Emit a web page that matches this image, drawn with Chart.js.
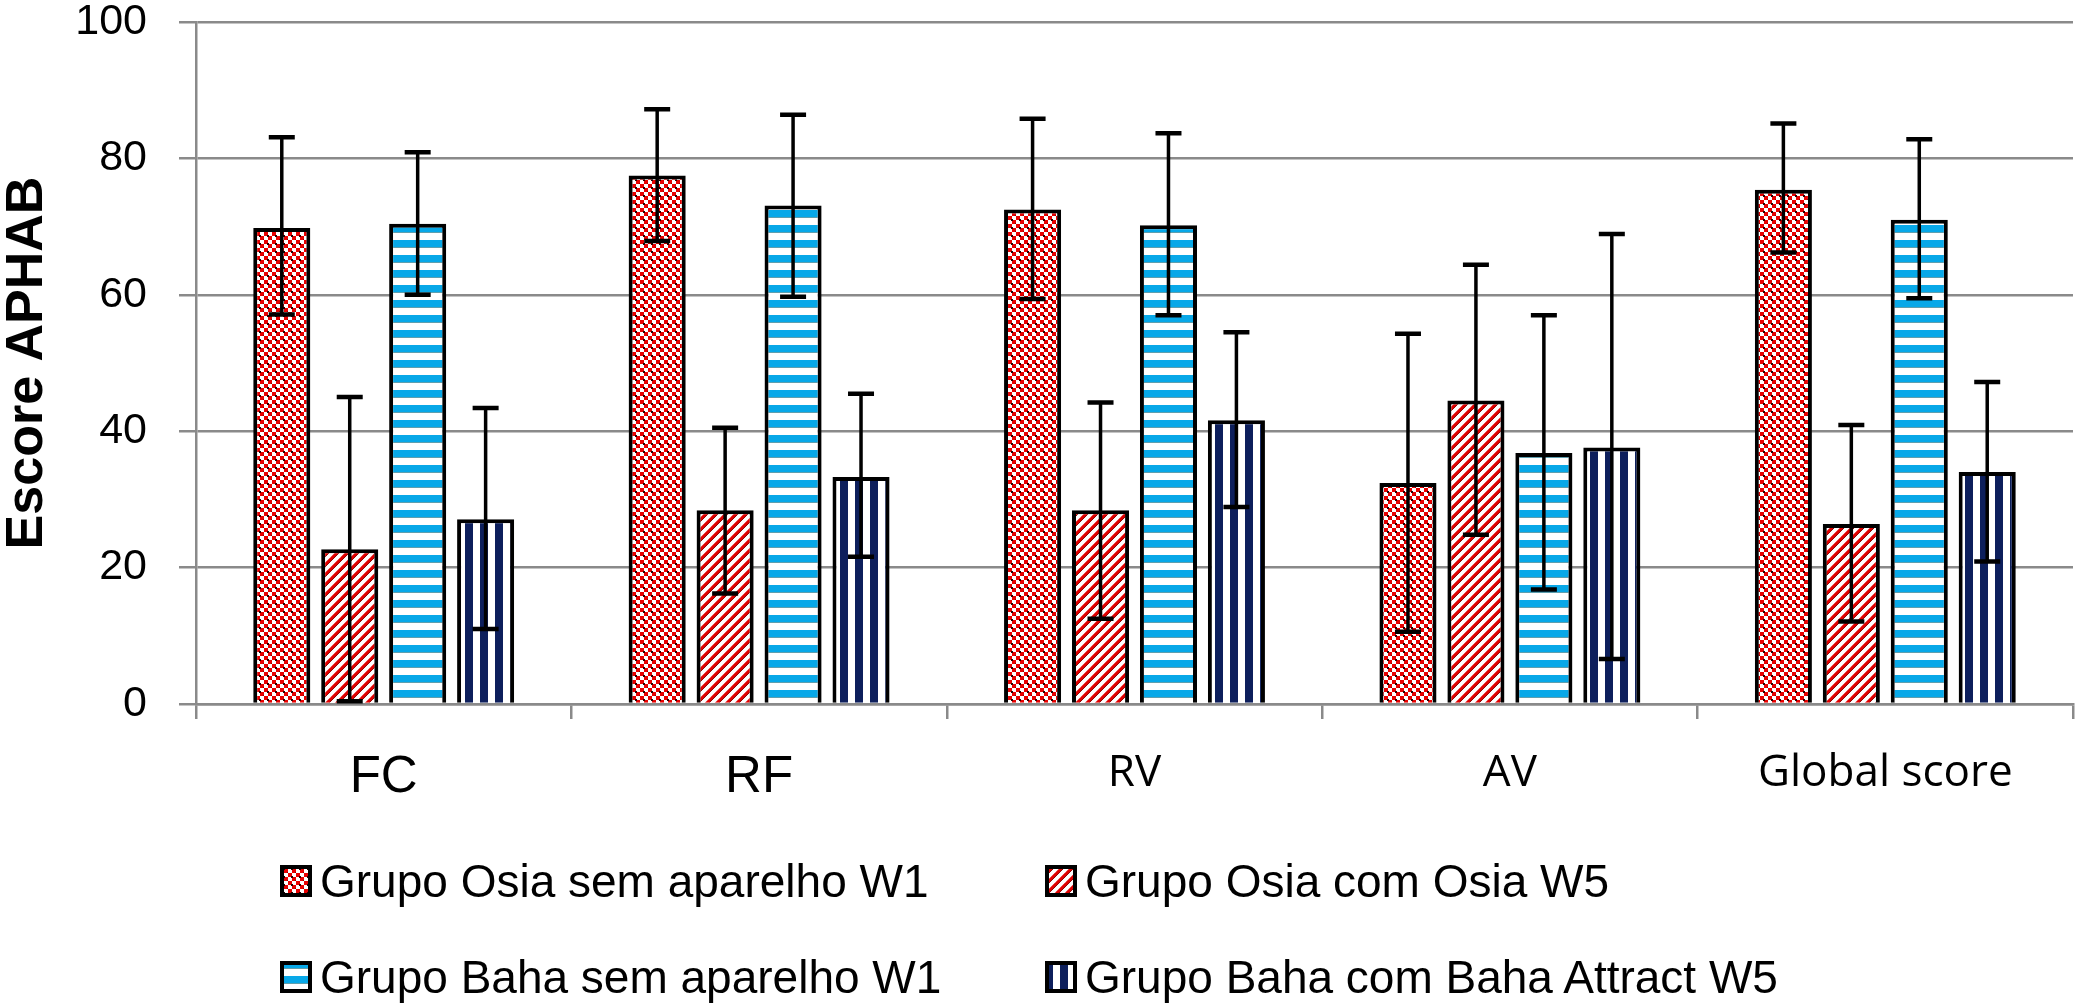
<!DOCTYPE html>
<html>
<head>
<meta charset="utf-8">
<script src="https://cdn.jsdelivr.net/npm/chart.js@4.4.0/dist/chart.umd.min.js"></script>
<style>
    body { margin: 0; background: #fff; }
    #wrap { position: relative; width: 2078px; height: 1004px; }
    #legend { position: absolute; left: 0; top: 0; width: 2078px; height: 1004px; pointer-events: none; }
    .item { position: absolute; display: flex; align-items: center; height: 40px;
            font-family: "Liberation Sans", Arial, sans-serif; font-size: 46px; color: #000; white-space: nowrap; }
    .item canvas { margin-right: 8px; }
</style>
</head>
<body>
<div id="wrap">
    <canvas id="myChart" width="2078" height="1004"></canvas>
    <div id="legend"></div>
</div>
<script>
const categories = ["FC", "RF", "RV", "AV", "Global score"];
const seriesNames = [
    "Grupo Osia sem aparelho W1",
    "Grupo Osia com Osia W5",
    "Grupo Baha sem aparelho W1",
    "Grupo Baha com Baha Attract W5"
];

const osiaW1 = [69.8, 77.5, 72.5, 32.4, 75.4];
const osiaW1Low = [57.1, 67.9, 59.4, 10.6, 66.2];
const osiaW1High = [83.1, 87.2, 85.8, 54.3, 85.1];

const osiaW5 = [22.7, 28.4, 28.4, 44.5, 26.4];
const osiaW5Low = [0.4, 16.2, 12.5, 24.8, 12.1];
const osiaW5High = [45.0, 40.5, 44.2, 64.4, 40.9];

const bahaW1 = [70.4, 73.1, 70.2, 36.8, 71.0];
const bahaW1Low = [60.0, 59.7, 57.0, 16.8, 59.5];
const bahaW1High = [80.9, 86.4, 83.7, 57.0, 82.8];

const bahaW5 = [27.1, 33.3, 41.6, 37.6, 34.0];
const bahaW5Low = [11.0, 21.6, 28.9, 6.6, 20.9];
const bahaW5High = [43.4, 45.5, 54.5, 68.9, 47.2];

const yTicks = [0, 20, 40, 60, 80, 100];

const gridGray = "#8a8a8a";

// small canvas tiles used as bar fills
function makeTile(w, h, paint) {
    const c = document.createElement("canvas");
    c.width = w;
    c.height = h;
    const g = c.getContext("2d");
    g.fillStyle = "#fff";
    g.fillRect(0, 0, w, h);
    paint(g);
    return c;
}

const tileChecker = makeTile(8, 8, g => {
    g.fillStyle = "#e80000";
    g.fillRect(0, 0, 4, 4);
    g.fillRect(4, 4, 4, 4);
    g.fillStyle = "#2a0000";
    g.fillRect(3, 3, 2, 2);
    g.fillStyle = "#7a0000";
    g.fillRect(7, 7, 1, 1);
});

const tileDiagonal = makeTile(10, 10, g => {
    g.strokeStyle = "#e00000";
    g.lineWidth = 3.2;
    [[-10, 10, 10, -10], [0, 10, 10, 0], [0, 20, 20, 0]].forEach(s => {
        g.beginPath();
        g.moveTo(s[0], s[1]);
        g.lineTo(s[2], s[3]);
        g.stroke();
    });
    g.strokeStyle = "#8a0000";
    g.lineWidth = 0.9;
    [[-8, 10, 12, -10], [2, 10, 12, 0], [2, 20, 22, 0]].forEach(s => {
        g.beginPath();
        g.moveTo(s[0], s[1]);
        g.lineTo(s[2], s[3]);
        g.stroke();
    });
});

const tileHoriz = makeTile(4, 15, g => {
    g.fillStyle = "#08a8e8";
    g.fillRect(0, 0, 4, 7);
    g.fillStyle = "#5e9fae";
    g.fillRect(0, 7, 4, 1);
});

const tileVert = makeTile(15, 4, g => {
    g.fillStyle = "#0d1f5c";
    g.fillRect(0, 0, 8, 4);
});

const tiles = [tileChecker, tileDiagonal, tileHoriz, tileVert];

const ctx = document.getElementById("myChart").getContext("2d");
const fills = tiles.map(t => ctx.createPattern(t, "repeat"));

const values = [osiaW1, osiaW5, bahaW1, bahaW5];
const lows = [osiaW1Low, osiaW5Low, bahaW1Low, bahaW5Low];
const highs = [osiaW1High, osiaW5High, bahaW1High, bahaW5High];

const datasets = seriesNames.map((name, i) => ({
    label: name,
    data: values[i],
    errLow: lows[i],
    errHigh: highs[i],
    backgroundColor: fills[i],
    borderColor: "#000",
    borderWidth: 4,
    categoryPercentage: 0.724,
    barPercentage: 0.84
}));

// error bars, placed with the y scale and the bar elements
const errorBars = {
    id: "errorBars",
    afterDatasetsDraw(chart) {
        const c = chart.ctx;
        const y = chart.scales.y;
        c.save();
        c.strokeStyle = "#000";
        chart.data.datasets.forEach((ds, i) => {
            chart.getDatasetMeta(i).data.forEach((bar, j) => {
                const top = y.getPixelForValue(ds.errHigh[j]);
                const bottom = y.getPixelForValue(ds.errLow[j]);
                const half = 13;
                c.lineWidth = 3.5;
                c.beginPath();
                c.moveTo(bar.x, top);
                c.lineTo(bar.x, bottom);
                c.stroke();
                c.lineWidth = 4.5;
                c.beginPath();
                c.moveTo(bar.x - half, top);
                c.lineTo(bar.x + half, top);
                c.moveTo(bar.x - half, bottom);
                c.lineTo(bar.x + half, bottom);
                c.stroke();
            });
        });
        c.restore();
    }
};

// legend as html, two columns
const htmlLegend = {
    id: "htmlLegend",
    afterUpdate(chart) {
        const box = document.getElementById("legend");
        box.innerHTML = "";
        const cols = [280, 1045];
        const rows = [861, 957];
        chart.data.datasets.forEach((ds, i) => {
            const item = document.createElement("div");
            item.className = "item";
            item.style.left = cols[i % 2] + "px";
            item.style.top = rows[Math.floor(i / 2)] + "px";
            const sw = document.createElement("canvas");
            sw.width = 32;
            sw.height = 32;
            const g = sw.getContext("2d");
            g.fillStyle = g.createPattern(tiles[i], "repeat");
            g.fillRect(0, 0, 32, 32);
            g.strokeStyle = "#000";
            g.lineWidth = 4;
            g.strokeRect(2, 2, 28, 28);
            item.appendChild(sw);
            item.appendChild(document.createTextNode(ds.label));
            box.appendChild(item);
        });
    }
};

const myChart = new Chart(ctx, {
    type: "bar",
    data: {
        labels: categories,
        datasets: datasets
    },
    options: {
        responsive: false,
        animation: false,
        devicePixelRatio: 1,
        layout: {
            padding: { left: 0, right: 5, top: 0, bottom: 200 }
        },
        plugins: {
            legend: { display: false },
            tooltip: { enabled: false }
        },
        scales: {
            x: {
                z: 1,
                grid: {
                    offset: true,
                    drawOnChartArea: false,
                    color: gridGray,
                    lineWidth: 2.5,
                    tickLength: 15
                },
                border: { color: gridGray, width: 2.5 },
                ticks: {
                    color: "#000",
                    padding: 28,
                    font: c => c.index < 2
                        ? { family: "'Liberation Sans', Arial, sans-serif", size: 51 }
                        : { family: "'Open Sans', sans-serif", size: 44 }
                },
                afterFit: s => { s.height = 100; }
            },
            y: {
                min: 0,
                max: 100,
                afterBuildTicks: s => { s.ticks = yTicks.map(v => ({ value: v })); },
                grid: {
                    color: gridGray,
                    lineWidth: 2.5,
                    tickLength: 17
                },
                border: { color: gridGray, width: 2.5 },
                ticks: {
                    color: "#000",
                    padding: 32,
                    font: { family: "'Liberation Sans', Arial, sans-serif", size: 43, lineHeight: 1 }
                },
                title: {
                    display: true,
                    text: "Escore APHAB",
                    color: "#000",
                    padding: { top: 2, bottom: 0 },
                    font: { family: "'Liberation Sans', Arial, sans-serif", size: 52, weight: "bold", lineHeight: 1 }
                },
                afterFit: s => {
                    s.width = 196;
                    s.paddingTop = 22;
                    s.paddingBottom = 0;
                }
            }
        }
    },
    plugins: [errorBars, htmlLegend]
});
</script>
</body>
</html>
